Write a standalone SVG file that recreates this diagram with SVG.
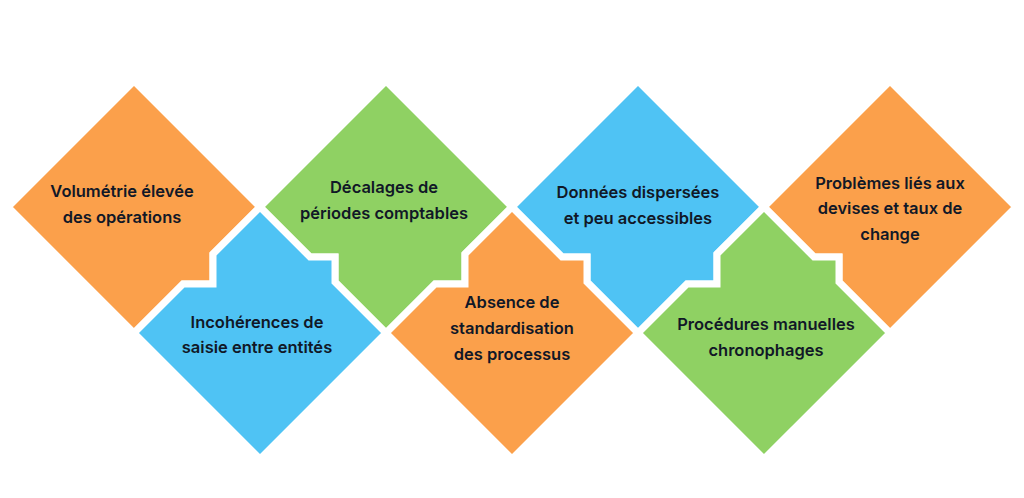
<svg xmlns="http://www.w3.org/2000/svg" width="1024" height="498" viewBox="0 0 1024 498">
<style>
.d{stroke:#fff;stroke-width:7;stroke-linejoin:miter}
.o{fill:#FBA04B}.g{fill:#8FD163}.b{fill:#4FC3F4}
text{font-family:Inter,"Open Sans","Liberation Sans",sans-serif;font-weight:600;font-size:16.5px;fill:#111827;text-anchor:middle}
</style>
<rect width="1024" height="498" fill="#fff"/>
<g id="n1"><polygon class="d o" points="134,81 260,207 213,254 213,284 183,284 134,333 8,207"/>
<text x="122" y="197">Volumétrie élevée</text><text x="122" y="223">des opérations</text></g>
<g id="n3"><polygon class="d g" points="386,81 512,207 465,254 465,284 435,284 386,333 335,282 335,257 310,257 260,207"/>
<text x="384" y="193">Décalages de</text><text x="384" y="219">périodes comptables</text></g>
<g id="n5"><polygon class="d b" points="638,81 764,207 717,254 717,284 687,284 638,333 587,282 587,257 562,257 512,207"/>
<text x="638" y="198">Données dispersées</text><text x="638" y="224">et peu accessibles</text></g>
<g id="n7"><polygon class="d o" points="890,81 1016,207 890,333 839,282 839,257 814,257 764,207"/>
<text x="890" y="189">Problèmes liés aux</text><text x="890" y="214">devises et taux de</text><text x="890" y="240">change</text></g>
<g id="n2"><polygon class="d b" points="260,207 310,257 335,257 335,282 386,333 260,459 134,333 183,284 213,284 213,254"/>
<text x="257" y="328">Incohérences de</text><text x="257" y="353">saisie entre entités</text></g>
<g id="n4"><polygon class="d o" points="512,207 562,257 587,257 587,282 638,333 512,459 386,333 435,284 465,284 465,254"/>
<text x="512" y="308">Absence de</text><text x="512" y="334">standardisation</text><text x="512" y="360">des processus</text></g>
<g id="n6"><polygon class="d g" points="764,207 814,257 839,257 839,282 890,333 764,459 638,333 687,284 717,284 717,254"/>
<text x="766" y="330">Procédures manuelles</text><text x="766" y="356">chronophages</text></g>
<g id="connectors"/>
</svg>
